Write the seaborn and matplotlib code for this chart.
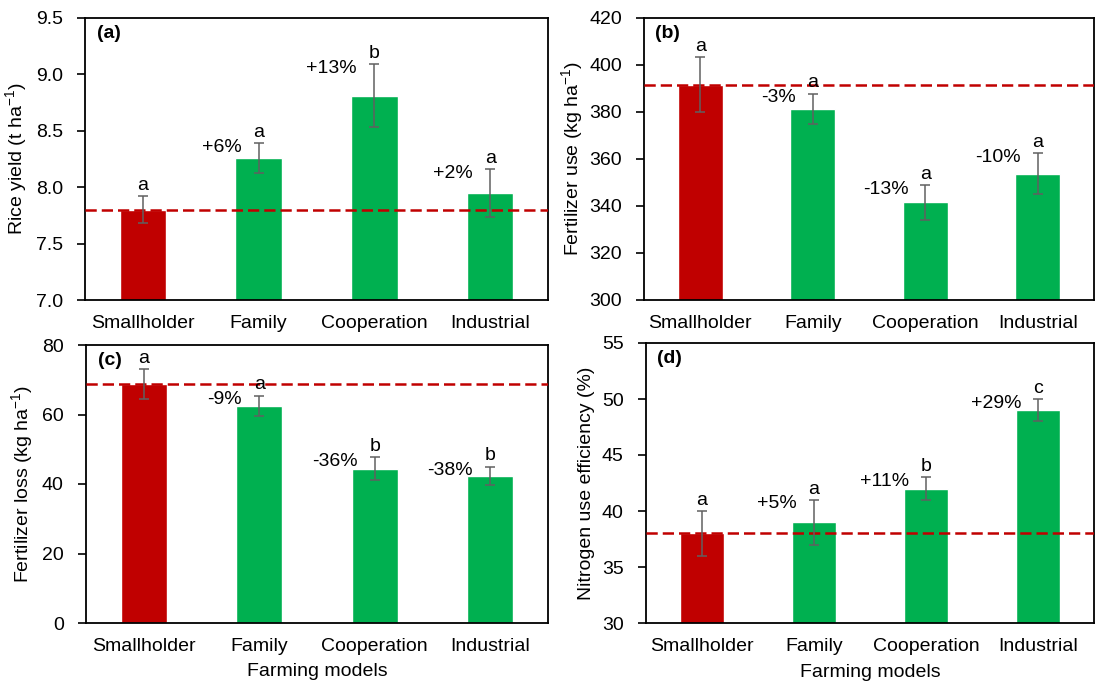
import matplotlib
matplotlib.use("Agg")
import matplotlib.pyplot as plt
import seaborn as sns

sns.set_theme(style="white")
plt.rcParams['font.family'] = ['Liberation Sans', 'DejaVu Sans']
plt.rcParams['mathtext.fontset'] = 'custom'
plt.rcParams['mathtext.rm'] = 'Liberation Sans'
plt.rcParams['mathtext.it'] = 'Liberation Sans:italic'
plt.rcParams['text.color'] = 'black'
plt.rcParams['axes.labelcolor'] = 'black'
plt.rcParams['xtick.color'] = 'black'
plt.rcParams['ytick.color'] = 'black'

categories = ['Smallholder', 'Family', 'Cooperation', 'Industrial']

yield_mean = [7.80, 8.26, 8.81, 7.95]
yield_err = [0.12, 0.13, 0.28, 0.21]
yield_letters = ['a', 'a', 'b', 'a']
yield_change = ['', '+6%', '+13%', '+2%']

fert_use_mean = [391.5, 381.3, 341.6, 353.8]
fert_use_err = [11.7, 6.5, 7.4, 8.7]
fert_use_letters = ['a', 'a', 'a', 'a']
fert_use_change = ['', '-3%', '-13%', '-10%']

fert_loss_mean = [68.8, 62.5, 44.4, 42.3]
fert_loss_err = [4.3, 2.9, 3.3, 2.7]
fert_loss_letters = ['a', 'a', 'b', 'b']
fert_loss_change = ['', '-9%', '-36%', '-38%']

nue_mean = [38.0, 39.0, 42.0, 49.0]
nue_err = [2.0, 2.0, 1.0, 1.0]
nue_letters = ['a', 'a', 'b', 'c']
nue_change = ['', '+5%', '+11%', '+29%']

RED = '#C00000'
GREEN = '#00B050'
palette = [RED, GREEN, GREEN, GREEN]

W, H = 1095, 690
fig = plt.figure(figsize=(W / 100, H / 100), dpi=100)


def box(left, top, right, bottom):
    return [left / W, 1 - bottom / H, (right - left) / W, (bottom - top) / H]


panels = [
    dict(rect=box(85, 18, 548, 300), tag='(a)', mean=yield_mean, err=yield_err,
         letters=yield_letters, change=yield_change,
         ylabel='Rice yield (t ha$^{-1}$)', ylim=(7.0, 9.5),
         yticks=[7.0, 7.5, 8.0, 8.5, 9.0, 9.5], fmt='{:.1f}', xlabel=None, lab_x=-0.121),
    dict(rect=box(644, 18, 1094, 300), tag='(b)', mean=fert_use_mean, err=fert_use_err,
         letters=fert_use_letters, change=fert_use_change,
         ylabel='Fertilizer use (kg ha$^{-1}$)', ylim=(300, 420),
         yticks=[300, 320, 340, 360, 380, 400, 420], fmt='{:.0f}', xlabel=None, lab_x=-0.131),
    dict(rect=box(86, 345, 548, 623), tag='(c)', mean=fert_loss_mean, err=fert_loss_err,
         letters=fert_loss_letters, change=fert_loss_change,
         ylabel='Fertilizer loss (kg ha$^{-1}$)', ylim=(0, 80),
         yticks=[0, 20, 40, 60, 80], fmt='{:.0f}', xlabel='Farming models', lab_x=-0.110),
    dict(rect=box(646, 343, 1094, 623), tag='(d)', mean=nue_mean, err=nue_err,
         letters=nue_letters, change=nue_change,
         ylabel='Nitrogen use efficiency (%)', ylim=(30, 55),
         yticks=[30, 35, 40, 45, 50, 55], fmt='{:.0f}', xlabel='Farming models', lab_x=-0.114),
]

FS = 14

for p in panels:
    ax = fig.add_axes(p['rect'])
    sns.barplot(x=categories, y=p['mean'], hue=categories, palette=palette,
                legend=False, width=0.4, errorbar=None, saturation=1, ax=ax, zorder=2)
    ax.errorbar(range(len(categories)), p['mean'], yerr=p['err'], fmt='none',
                ecolor='#606060', elinewidth=1.1, capsize=3.5, capthick=1.1, zorder=4)
    ax.axhline(p['mean'][0], color=RED, lw=1.8, ls=(0, (4.5, 2)), zorder=3)

    ax.set_xlim(-0.5, len(categories) - 0.5)
    ax.set_ylim(*p['ylim'])
    ax.set_yticks(p['yticks'])
    ax.set_yticklabels([p['fmt'].format(v) for v in p['yticks']], fontsize=FS)
    ax.set_xticks(range(len(categories)))
    ax.set_xticklabels(categories, fontsize=FS)
    ax.set_xticks([i - 0.5 for i in range(len(categories) + 1)], minor=True)
    ax.tick_params(axis='x', which='major', length=0, pad=11)
    ax.tick_params(axis='x', which='minor', length=6, width=1.2, direction='out', color='black')
    ax.tick_params(axis='y', which='major', length=6, width=1.2, direction='out',
                   color='black', pad=10, left=True)
    for s in ax.spines.values():
        s.set_color('black')
        s.set_linewidth(1.3)

    ax.set_ylabel(p['ylabel'], fontsize=FS)
    ax.yaxis.set_label_coords(p['lab_x'], 0.5)
    if p['xlabel']:
        ax.set_xlabel(p['xlabel'], fontsize=FS)
        ax.xaxis.set_label_coords(0.5, -0.145)
    else:
        ax.set_xlabel('')

    ax.text(0.025, 0.945, p['tag'], transform=ax.transAxes, fontsize=14,
            fontweight='bold', ha='left', va='center')

    for i, (m, e, let, ch) in enumerate(zip(p['mean'], p['err'], p['letters'], p['change'])):
        ax.annotate(let, xy=(i, m + e), xytext=(0, 4.5), textcoords='offset points',
                    ha='center', va='baseline', fontsize=FS)
        if ch:
            ax.annotate(ch, xy=(i - 0.15, m + e), xytext=(0, -3), textcoords='offset points',
                        ha='right', va='center', fontsize=FS)

fig.savefig('out.png', dpi=100)
